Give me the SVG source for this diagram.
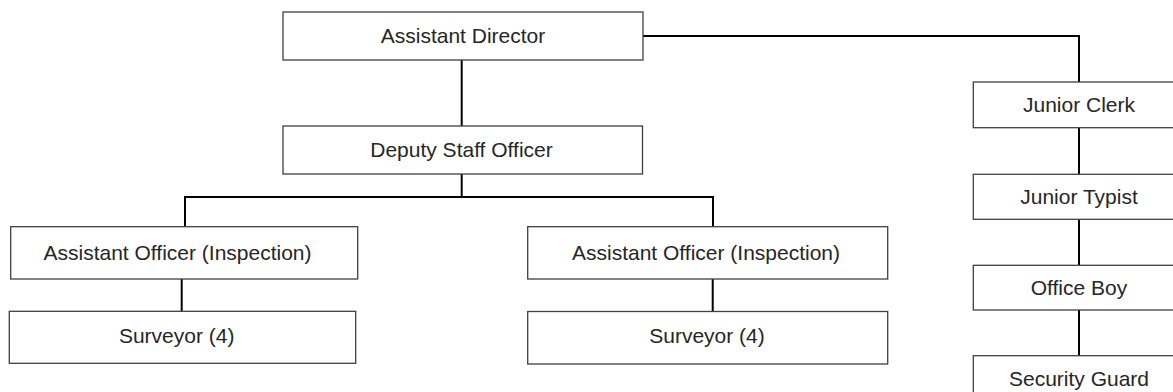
<svg xmlns="http://www.w3.org/2000/svg" width="1173" height="392" viewBox="0 0 1173 392">
  <style>
    .box { fill: #ffffff; stroke: #404040; stroke-width: 1.3; }
    .label { font-family: "Liberation Sans", Arial, sans-serif; font-size: 21px; fill: #262626; text-anchor: middle; }
    .link { fill: none; stroke: #000000; stroke-width: 2; }
  </style>
  <rect x="0" y="0" width="1173" height="392" fill="#ffffff"/>

  <!-- reporting lines -->
  <g id="connectors">
    <path class="link" d="M461.7 60 V126"/>
    <path class="link" d="M643 36 H1079 V82"/>
    <path class="link" d="M461.7 174 V197"/>
    <path class="link" d="M185 227 V197 H713 V227"/>
    <path class="link" d="M181.7 279 V311"/>
    <path class="link" d="M712.7 279 V311"/>
    <path class="link" d="M1079 128 V174"/>
    <path class="link" d="M1079 219 V265"/>
    <path class="link" d="M1079 310 V356"/>
  </g>

  <g id="assistant-director">
    <rect class="box" x="283" y="12" width="360" height="48"/>
    <text class="label" x="463" y="42.5">Assistant Director</text>
  </g>

  <g id="deputy-staff-officer">
    <rect class="box" x="283" y="126" width="359.5" height="48"/>
    <text class="label" x="461.5" y="156.5">Deputy Staff Officer</text>
  </g>

  <g id="assistant-officer-left">
    <rect class="box" x="10.7" y="226.7" width="347" height="52.3"/>
    <text class="label" x="177.5" y="259.5">Assistant Officer (Inspection)</text>
  </g>

  <g id="surveyor-left">
    <rect class="box" x="9.3" y="311.3" width="346.4" height="52"/>
    <text class="label" x="176.7" y="342.5">Surveyor (4)</text>
  </g>

  <g id="assistant-officer-right">
    <rect class="box" x="527.7" y="226.7" width="360" height="52.3"/>
    <text class="label" x="706" y="259.5">Assistant Officer (Inspection)</text>
  </g>

  <g id="surveyor-right">
    <rect class="box" x="527.7" y="311.5" width="360" height="52.5"/>
    <text class="label" x="707" y="342.5">Surveyor (4)</text>
  </g>

  <g id="junior-clerk">
    <rect class="box" x="973.3" y="82" width="215" height="45.7"/>
    <text class="label" x="1079" y="112">Junior Clerk</text>
  </g>

  <g id="junior-typist">
    <rect class="box" x="973.3" y="174.3" width="215" height="45"/>
    <text class="label" x="1079" y="203.5">Junior Typist</text>
  </g>

  <g id="office-boy">
    <rect class="box" x="973.3" y="265.3" width="215" height="44.7"/>
    <text class="label" x="1079" y="294.5">Office Boy</text>
  </g>

  <g id="security-guard">
    <rect class="box" x="973.3" y="355.7" width="215" height="45"/>
    <text class="label" x="1079" y="385.5">Security Guard</text>
  </g>
</svg>
